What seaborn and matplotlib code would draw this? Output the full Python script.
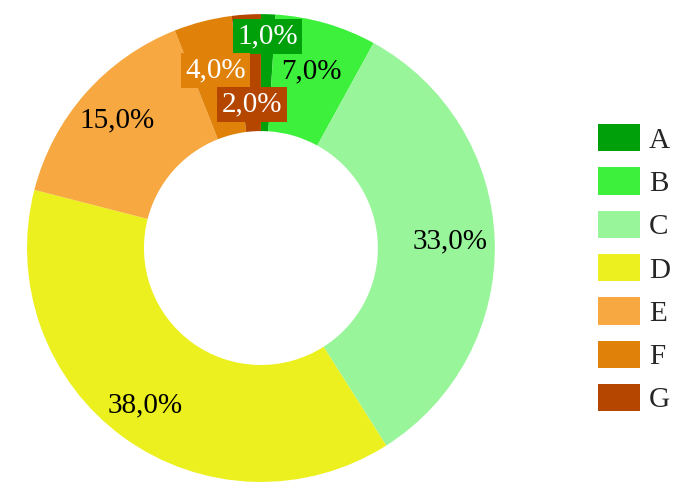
import numpy as np
import matplotlib
matplotlib.use("Agg")
import matplotlib.pyplot as plt
import seaborn as sns

# data
categories = ["A", "B", "C", "D", "E", "F", "G"]
shares = [1.0, 7.0, 33.0, 38.0, 15.0, 4.0, 2.0]
colors = ["#00a00a", "#3cf03c", "#98f59a", "#ebf01e", "#f7a840", "#e0820a", "#b44600"]

# label placement (fraction of outer radius) and whether label gets a box
label_radius = [0.90, 0.78, 0.81, 0.84, 0.82, 0.78, 0.61]
boxed = [True, False, False, False, False, True, True]

sns.set_theme(style="white")
plt.rcParams["font.family"] = ["Liberation Serif", "DejaVu Serif"]

fig = plt.figure(figsize=(6.89, 4.96), dpi=100)
ax = fig.add_axes([0.0392, 0.0282, 0.679, 0.9435])

wedges, _ = ax.pie(
    shares,
    colors=colors,
    startangle=90,
    counterclock=False,
    radius=1.0,
    wedgeprops=dict(width=0.5, linewidth=0),
)

total = sum(shares)
cum = np.cumsum([0] + shares[:-1])
for i, (s, c) in enumerate(zip(shares, cum)):
    mid = (c + s / 2) / total * 360.0
    ang = np.deg2rad(90 - mid)
    r = label_radius[i]
    x, y = r * np.cos(ang), r * np.sin(ang)
    txt = f"{s:.1f}%".replace(".", ",")
    if boxed[i]:
        ax.text(x, y + 0.005, txt, ha="center", va="center", fontsize=21, color="white",
                bbox=dict(boxstyle="square,pad=0.15", facecolor=colors[i], edgecolor="none"))
    else:
        ax.text(x, y + 0.005, txt, ha="center", va="center", fontsize=21, color="black")

ax.set_xlim(-1, 1)
ax.set_ylim(-1, 1)
ax.set_aspect("equal")

leg = fig.legend(wedges, categories, loc="center left", bbox_to_anchor=(0.83, 0.458),
                 frameon=False, fontsize=21, handlelength=1.44, handleheight=1.06,
                 labelspacing=0.47, handletextpad=0.3)

fig.savefig("out.png", dpi=100)
